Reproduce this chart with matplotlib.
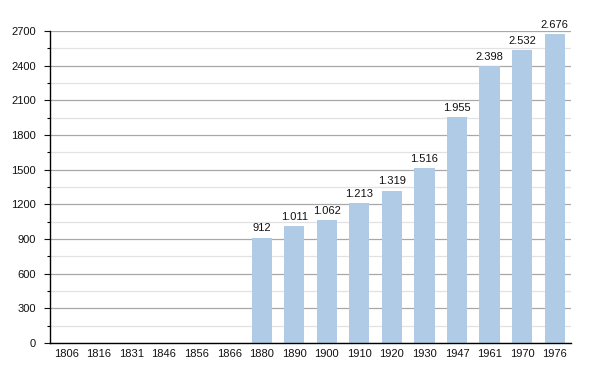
import numpy as np
import matplotlib
matplotlib.use("Agg")
import matplotlib.pyplot as plt
from matplotlib.ticker import MultipleLocator

years = ["1806", "1816", "1831", "1846", "1856", "1866", "1880", "1890",
         "1900", "1910", "1920", "1930", "1947", "1961", "1970", "1976"]
population = [np.nan, np.nan, np.nan, np.nan, np.nan, np.nan, 912, 1011,
              1062, 1213, 1319, 1516, 1955, 2398, 2532, 2676]

plt.rcParams['font.family'] = ['Liberation Sans', 'DejaVu Sans']

fig = plt.figure(figsize=(6.0, 3.73), dpi=100)
ax = fig.add_axes([50/600, 1-343/373, 521/600, 312/373])

x = np.arange(len(years))
vals = np.array(population, dtype=float)
ax.bar(x, np.nan_to_num(vals), width=0.62, color='#b0cbe6', zorder=3)

for xi, v in zip(x, vals):
    if not np.isnan(v):
        s = f"{int(v):,}".replace(",", ".")
        ax.annotate(s, (xi, v), xytext=(0, 3), textcoords='offset points',
                    ha='center', va='bottom', fontsize=8, color='#111111',
                    annotation_clip=False, zorder=4)

ax.set_xlim(-0.5, len(years) - 0.5)
ax.set_ylim(0, 2700)
ax.yaxis.set_major_locator(MultipleLocator(300))
ax.yaxis.set_minor_locator(MultipleLocator(150))
ax.set_xticks(x)
ax.set_xticklabels(years)

ax.grid(axis='y', which='major', color='#a8a8a8', linewidth=0.9, zorder=1)
ax.grid(axis='y', which='minor', color='#e2e2e2', linewidth=0.9, zorder=1)

for side in ['top', 'right']:
    ax.spines[side].set_visible(False)
ax.spines['left'].set_linewidth(1.0)
ax.spines['bottom'].set_linewidth(1.0)
ax.spines['left'].set_zorder(5)
ax.spines['bottom'].set_zorder(5)

ax.tick_params(axis='y', which='major', length=4, width=0.8, pad=6, labelsize=8, colors='#111111')
ax.tick_params(axis='y', which='minor', length=2.5, width=0.8)
ax.tick_params(axis='x', which='both', length=0, pad=4, labelsize=8, colors='#111111')

fig.savefig("out.png", dpi=100, facecolor='white')
